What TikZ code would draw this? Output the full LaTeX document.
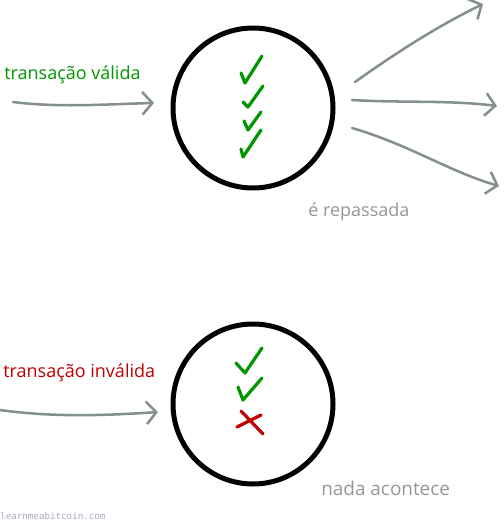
\documentclass[tikz,border=0pt]{standalone}
\usepackage{fontspec}
\setmainfont{Open Sans}
\setmonofont{DejaVu Sans Mono}
\usepackage{tikz}
\usetikzlibrary{arrows.meta}
\definecolor{okgreen}{RGB}{0,150,0}
\definecolor{badred}{RGB}{190,0,0}
\definecolor{arrowgray}{RGB}{133,143,143}
\definecolor{notegray}{RGB}{150,150,150}
\definecolor{markgray}{RGB}{170,170,190}
\tikzstyle{nodecircle}=[circle,draw,line width=3.75pt,minimum size=120pt,inner sep=0pt]
\tikzstyle{flow}=[draw=arrowgray,line width=1.9pt,line cap=round,-{Straight Barb[length=7.5pt,width=17pt,line width=1.9pt]}]
\tikzstyle{tick}=[line width=2.4pt,line cap=round,line join=round]
\tikzstyle{label}=[inner sep=0pt,anchor=base west,font=\fontsize{13.5}{16}\selectfont]

\begin{document}
\begin{tikzpicture}[x=0.75pt,y=-0.75pt]
        \useasboundingbox (0,0) rectangle (503,520);
        % valid transaction
        \node[nodecircle] (valid) at (253,108) {};
        \node[label,text=okgreen] (validtext) at (4,80) {transação válida};
        \node[label,text=notegray] (passed) at (308,216) {é repassada};
        \coordinate (vin0) at (13,102);
        \coordinate (vin1) at (154,103);
        \coordinate (vout0) at (355,82);
        \coordinate (vout1) at (483,4);
        \coordinate (vout2) at (352,100);
        \coordinate (vout3) at (497,106);
        \coordinate (vout4) at (352,128);
        \coordinate (vout5) at (499,186);
        \draw[flow] (vin0) .. controls (60,108) and (110,104) .. (vin1);
        \draw[flow] (vout0) .. controls (400,50) and (440,25) .. (vout1);
        \draw[flow] (vout2) .. controls (400,103) and (450,100) .. (vout3);
        \draw[flow] (vout4) .. controls (410,145) and (450,172) .. (vout5);
        \draw[tick,okgreen] (241,73) -- (245,83) -- (262,56);
        \draw[tick,okgreen] (243,102) -- (248,107) -- (263,86);
        \draw[tick,okgreen] (244,121) -- (248,130) -- (261,112);
        \draw[tick,okgreen] (241,149) -- (243,157) -- (261,130);
        % invalid transaction
        \node[nodecircle] (invalid) at (253,404) {};
        \node[label,text=badred] (invalidtext) at (3,377) {transação inválida};
        \node[label,text=notegray,font=\fontsize{14.2}{17}\selectfont] (nothing) at (321,495) {nada acontece};
        \coordinate (iin0) at (0,410);
        \coordinate (iin1) at (158,412);
        \draw[flow] (iin0) .. controls (50,417) and (100,416) .. (iin1);
        \draw[tick,okgreen] (236,363) -- (245,373) -- (262,348);
        \draw[tick,okgreen] (238,387) -- (243,400) -- (262,378);
        \draw[tick,badred] (241,411) -- (263,434);
        \draw[tick,badred] (261,415) -- (237,427);
        \node[inner sep=0pt,anchor=base west,text=markgray,font=\ttfamily\fontsize{6.9}{7}\selectfont] (site) at (0,519) {learnmeabitcoin.com};
\end{tikzpicture}
\end{document}
